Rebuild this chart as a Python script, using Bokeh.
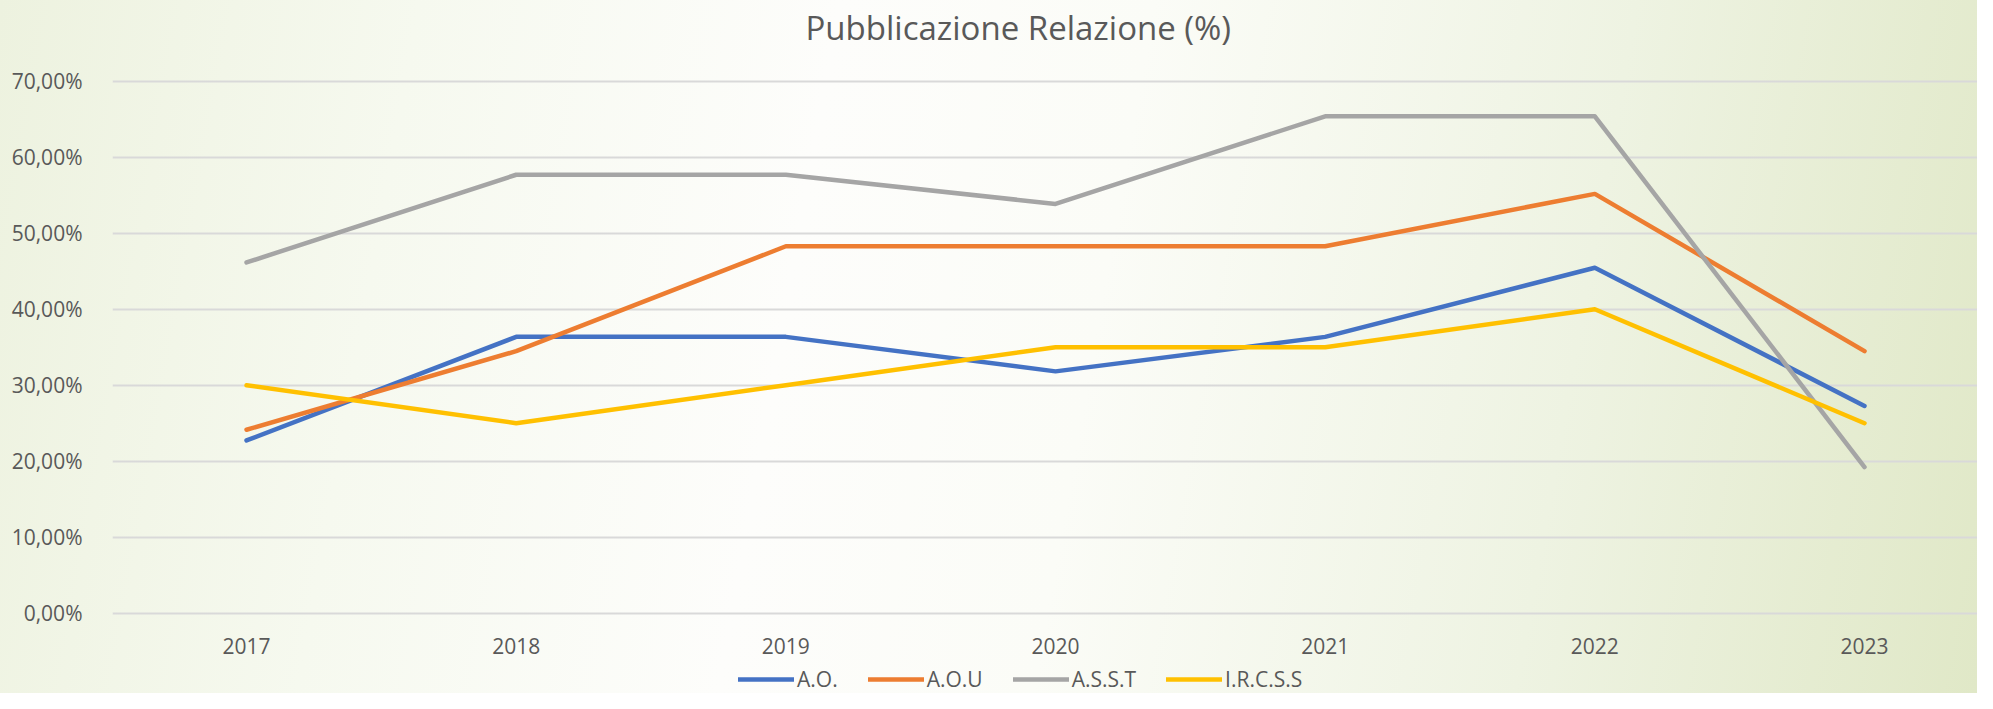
from bokeh.plotting import figure
from bokeh.layouts import column
from bokeh.models import Range1d, FixedTicker, Legend, LegendItem
from bokeh.embed import file_html
from bokeh.resources import INLINE

# ---------------- data ----------------
years = [2017, 2018, 2019, 2020, 2021, 2022, 2023]
ao = [22.73, 36.36, 36.36, 31.82, 36.36, 45.45, 27.27]
aou = [24.14, 34.48, 48.28, 48.28, 48.28, 55.17, 34.48]
asst = [46.15, 57.69, 57.69, 53.85, 65.38, 65.38, 19.23]
ircss = [30.0, 25.0, 30.0, 35.0, 35.0, 40.0, 25.0]
series_names = ["A.O.", "A.O.U", "A.S.S.T", "I.R.C.S.S"]
series_colors = ["#4472C4", "#ED7D31", "#A5A5A5", "#FFC000"]
y_ticks = [0, 10, 20, 30, 40, 50, 60, 70]
y_tick_labels = ["0,00%", "10,00%", "20,00%", "30,00%", "40,00%", "50,00%", "60,00%", "70,00%"]
title_text = "Pubblicazione Relazione (%)"

FONT = "Open Sans"
TXT = "#595959"
W = 1977

p = figure(
    width=W, height=660,
    output_backend="svg", toolbar_location=None,
    x_range=Range1d(2016.503, 2023.419),
    y_range=Range1d(-2.013, 73.776),
    min_border_left=112, min_border_right=0,
    min_border_top=52, min_border_bottom=32,
)
p.background_fill_color = None
p.border_fill_color = None
p.outline_line_color = None

# title
p.title.text = title_text
p.title.align = "left"
p.title.offset = 693
p.title.text_font = FONT
p.title.text_font_size = "33px"
p.title.text_font_style = "normal"
p.title.text_color = TXT
p.title.standoff = 5

# axes
p.xaxis.ticker = FixedTicker(ticks=years)
p.xaxis.axis_line_color = None
p.xaxis.major_tick_line_color = None
p.xaxis.minor_tick_line_color = None
p.xaxis.major_label_text_font = FONT
p.xaxis.major_label_text_font_size = "21px"
p.xaxis.major_label_text_color = TXT
p.xaxis.major_label_standoff = 3

p.yaxis.ticker = FixedTicker(ticks=y_ticks)
p.yaxis.major_label_overrides = {t: lab for t, lab in zip(y_ticks, y_tick_labels)}
p.yaxis.axis_line_color = None
p.yaxis.major_tick_line_color = None
p.yaxis.minor_tick_line_color = None
p.yaxis.major_label_text_font = FONT
p.yaxis.major_label_text_font_size = "21px"
p.yaxis.major_label_text_color = TXT
p.yaxis.major_label_standoff = 24

p.xgrid.grid_line_color = None
p.ygrid.grid_line_color = "#d9d9d9"
p.ygrid.grid_line_width = 2
p.ygrid.ticker = FixedTicker(ticks=y_ticks)

all_series = [ao, aou, asst, ircss]
for vals, col in zip(all_series, series_colors):
    p.line(years, vals, line_color=col, line_width=4.5,
           line_cap="round", line_join="round")

# legend strip (separate thin figure below the chart; its frame is aligned with the chart's)
pl = figure(
    width=W, height=33,
    output_backend="svg", toolbar_location=None,
    x_axis_type=None, y_axis_type=None,
    x_range=Range1d(0, 1), y_range=Range1d(0, 1),
    min_border_left=0, min_border_right=0, min_border_top=0, min_border_bottom=0,
)
pl.background_fill_color = None
pl.border_fill_color = None
pl.outline_line_color = None
pl.grid.visible = False

items = []
for name, vals, col in zip(series_names, all_series, series_colors):
    # same series, drawn outside this strip's visible range: only used as legend proxies
    r = pl.line(years, vals, line_color=col, line_width=4.5, line_cap="round")
    items.append(LegendItem(label=name, renderers=[r]))

legend = Legend(items=items, orientation="horizontal",
                location=(626, 0),
                glyph_width=56, glyph_height=20, label_standoff=3, spacing=30,
                padding=0, margin=0,
                label_text_font=FONT, label_text_font_size="21px",
                label_text_color=TXT,
                background_fill_alpha=0, border_line_color=None)
pl.add_layout(legend)

layout = column(p, pl, spacing=0)
layout.styles = {
    "background": "linear-gradient(100deg, #edf2df 0%, #f6f9ef 20%, #fdfdfb 40%, #fbfcf7 55%, #eef3e2 78%, #e0e8c7 100%)"
}

open("out.html", "w").write(file_html(layout, INLINE))
